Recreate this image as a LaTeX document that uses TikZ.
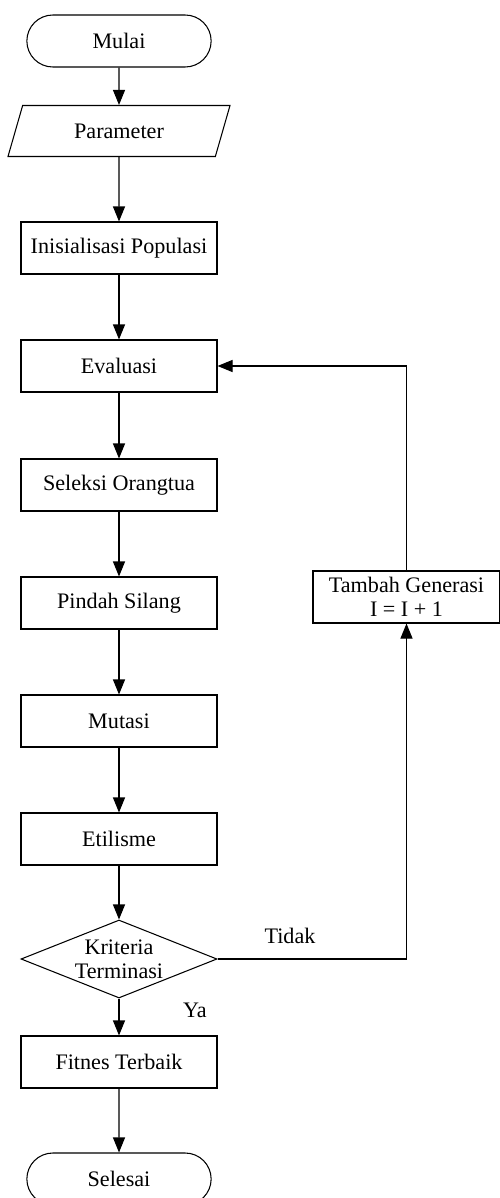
\documentclass[tikz,border=0pt]{standalone}
\usepackage{fontspec}
\setmainfont{Liberation Serif}
\usetikzlibrary{shapes.geometric, shapes.misc, arrows.meta}

\tikzset{
    proc/.style={draw, rectangle, minimum width=3.92cm, minimum height=1.04cm, align=center},
    term/.style={draw, rounded rectangle, minimum width=3.92cm, minimum height=1.04cm},
    io/.style={draw, trapezium, trapezium left angle=61, trapezium right angle=119, trapezium stretches body=true, minimum width=4.44cm, minimum height=1.02cm},
    decide/.style={draw, diamond, aspect=2.5, inner sep=0pt, minimum width=3.92cm, minimum height=1.56cm, align=center},
    flow/.style={-{Triangle[length=0.3cm, width=0.24cm]}}
}

\begin{document}
\begin{tikzpicture}[font=\fontsize{12.6}{13.6}\selectfont, semithick]
    \useasboundingbox (0, 0) rectangle (10, -23.96);

    \node[term] at (2.38, -0.82) (start) {Mulai};
    \node[io] at (2.38, -2.62) (param) {Parameter};
    \node[proc] at (2.38, -4.96) (init) {Inisialisasi Populasi};
    \node[proc] at (2.38, -7.32) (eval) {Evaluasi};
    \node[proc] at (2.38, -9.70) (sel) {Seleksi Orangtua};
    \node[proc] at (2.38, -12.06) (cross) {Pindah Silang};
    \node[proc] at (2.38, -14.42) (mut) {Mutasi};
    \node[proc] at (2.38, -16.78) (elit) {Etilisme};
    \node[decide] at (2.38, -19.18) (crit) {Kriteria\\Terminasi};
    \node[proc] at (2.38, -21.24) (best) {Fitnes Terbaik};
    \node[term] at (2.38, -23.58) (stop) {Selesai};
    \node[proc, minimum width=3.74cm, inner sep=1pt] at (8.13, -11.94) (gen) {Tambah Generasi\\I = I + 1};

    \coordinate (corner1) at (8.13, -19.18);
    \coordinate (corner2) at (8.13, -7.32);

    \draw[flow] (start) -- (param);
    \draw[flow] (param) -- (init);
    \draw[flow] (init) -- (eval);
    \draw[flow] (eval) -- (sel);
    \draw[flow] (sel) -- (cross);
    \draw[flow] (cross) -- (mut);
    \draw[flow] (mut) -- (elit);
    \draw[flow] (elit) -- (crit);
    \draw[flow] (crit) -- (best);
    \draw[flow] (best) -- (stop);
    \draw[flow] (crit.east) -- (corner1) -- (gen);
    \draw[flow] (gen) -- (corner2) -- (eval.east);

    \node at (5.8, -18.72) (no) {Tidak};
    \node at (3.9, -20.2) (yes) {Ya};
\end{tikzpicture}
\end{document}
